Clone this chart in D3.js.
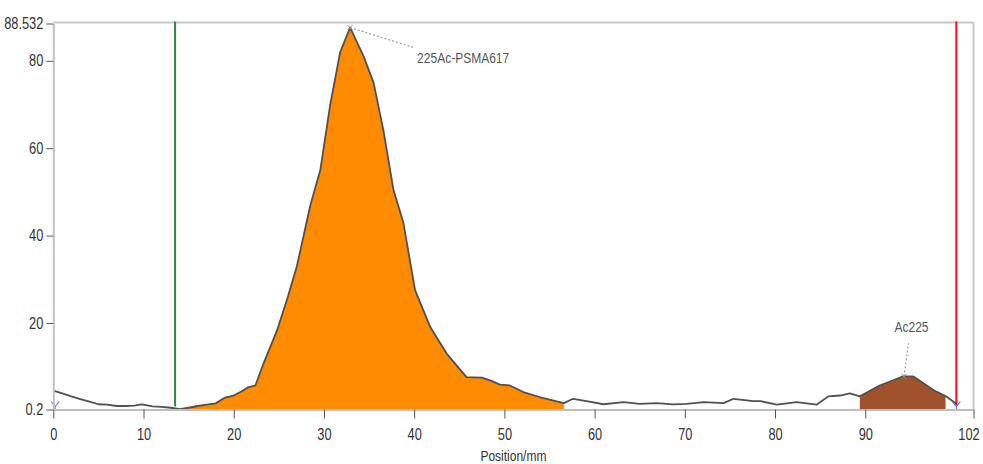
<!DOCTYPE html>
<html>
<head>
<meta charset="utf-8">
<script src="https://cdn.jsdelivr.net/npm/d3@7"></script>
<style>
  html, body { margin: 0; padding: 0; background: #fff; }
  svg { display: block; }
  .lbl { font-family: "Liberation Sans", Arial, sans-serif; }
</style>
</head>
<body>
<svg id="chart" width="983" height="464"></svg>
<script>
// profile: position (mm) and counts
const positions = [0, 1, 2, 3, 4, 5, 6, 7, 8, 9, 9.8, 11, 12, 13, 14, 15, 16, 17, 18, 19, 20, 21, 21.5, 22.4,
  23.3, 24.8, 26, 27, 28.5, 29.6, 30.7, 31.8, 32.9, 34.4, 35.5, 36.6, 37.7, 38.8, 40.1, 41.8, 43.6, 45.8,
  47.5, 48.5, 49.5, 50.6, 52.1, 54, 56.6, 57.6, 59.1, 61, 63.2, 65, 66.9, 68.7, 70.2, 72.1, 74.3, 75.4,
  77.6, 78.4, 80.2, 82.4, 84.6, 85.9, 87.2, 88.3, 89.4, 91.6, 93.1, 94.2, 95.3, 97.6, 98.9, 100.1];
const counts = [4.5, 3.9, 3.2, 2.6, 2.0, 1.4, 1.3, 1.0, 1.0, 1.1, 1.35, 0.9, 0.8, 0.6, 0.3, 0.6, 1.0, 1.3, 1.6, 2.9,
  3.4, 4.5, 5.2, 5.7, 10.7, 18.3, 26, 33, 47, 55, 70, 82, 87.6, 81, 75, 64, 50.5, 43, 27.5, 19, 13, 7.6,
  7.5, 6.8, 5.9, 5.7, 4.2, 3.0, 1.65, 2.65, 2.1, 1.4, 1.9, 1.5, 1.65, 1.35, 1.5, 1.9, 1.65, 2.65,
  2.1, 2.1, 1.3, 1.9, 1.3, 3.2, 3.4, 3.9, 3.2, 5.7, 6.9, 7.8, 7.8, 4.6, 3.3, 1.5];

const xTicks = [0, 10, 20, 30, 40, 50, 60, 70, 80, 90, 102];
const yTicks = [0.2, 20, 40, 60, 80, 88.532];

// integration regions
const regions = [
  { name: '225Ac-PSMA617', from: 14.2, to: 56.6, color: '#ff8c00', peak: 32.9, dx: 67, dy: 30, anchor: 'start' },
  { name: 'Ac225', from: 89.4, to: 98.9, color: '#a0522d', peak: 94.3, dx: 7.5, dy: -49, anchor: 'middle' }
];
const roiStart = 13.5, roiEnd = 100.1;

const svg = d3.select('#chart');
const mLeft = 53.3, mRight = 973.5, mTop = 23.5, mBottom = 409.5;

const x = d3.scaleLinear().domain([0, 102]).range([mLeft, mRight]);
const y = d3.scaleLinear().domain([0.2, 88.532]).range([mBottom, mTop]);

const data = positions.map((p, i) => ({ p, v: counts[i] }));
const valueAt = p => {
  const i = d3.bisector(d => d.p).left(data, p);
  if (i <= 0) return data[0].v;
  if (i >= data.length) return data[data.length - 1].v;
  const a = data[i - 1], b = data[i];
  return a.v + (b.v - a.v) * (p - a.p) / (b.p - a.p);
};

// frame
svg.append('line').attr('x1', mLeft).attr('x2', mRight).attr('y1', mTop - 1).attr('y2', mTop - 1)
  .attr('stroke', '#c8c8c8').attr('stroke-width', 2);
svg.append('line').attr('x1', mRight).attr('x2', mRight).attr('y1', mTop - 1).attr('y2', mBottom)
  .attr('stroke', '#c8c8c8').attr('stroke-width', 2);

// filled regions
const area = d3.area().x(d => x(d.p)).y0(y(0.2)).y1(d => y(d.v));
regions.forEach(r => {
  const pts = [{ p: r.from, v: valueAt(r.from) }]
    .concat(data.filter(d => d.p > r.from && d.p < r.to))
    .concat([{ p: r.to, v: valueAt(r.to) }]);
  svg.append('path').datum(pts).attr('d', area).attr('fill', r.color);
});

// profile line
const line = d3.line().x(d => x(d.p)).y(d => y(d.v));
svg.append('path').datum(data).attr('d', line)
  .attr('fill', 'none').attr('stroke', '#505050').attr('stroke-width', 1.8).attr('stroke-linejoin', 'round');

// ROI markers
svg.append('line').attr('x1', x(roiStart)).attr('x2', x(roiStart)).attr('y1', mTop - 2).attr('y2', mBottom - 3)
  .attr('stroke', '#2e8b2e').attr('stroke-width', 2);
svg.append('line').attr('x1', x(roiEnd)).attr('x2', x(roiEnd)).attr('y1', mTop - 2).attr('y2', mBottom - 4)
  .attr('stroke', '#e8101a').attr('stroke-width', 2);

// little Y markers on the baseline
[{ p: 0.2, c: '#8a6fd0' }, { p: roiEnd, c: '#5a6fe0' }].forEach(m => {
  const cx = x(m.p), cy = mBottom - 4;
  svg.append('path')
    .attr('d', `M${cx - 4},${cy - 4}L${cx},${cy + 1}L${cx + 4},${cy - 4}M${cx},${cy + 1}L${cx},${cy + 4}`)
    .attr('fill', 'none').attr('stroke', m.c).attr('stroke-width', 1.2);
});

// axes
const xAxis = svg.append('g').attr('transform', `translate(0,${mBottom})`)
  .call(d3.axisBottom(x).tickValues(xTicks).tickSize(9).tickPadding(10).tickSizeOuter(0));
const yAxis = svg.append('g').attr('transform', `translate(${mLeft},0)`)
  .call(d3.axisLeft(y).tickValues(yTicks).tickFormat(d => String(d)).tickSize(7).tickPadding(3).tickSizeOuter(0));
[xAxis, yAxis].forEach(g => {
  g.select('.domain').attr('stroke', '#c0c0c0').attr('stroke-width', 2);
  g.selectAll('.tick line').attr('stroke', '#555');
  g.selectAll('.tick text').attr('class', 'lbl').attr('fill', '#333').attr('font-size', 16);
});
// last x label sits a little inside the edge
xAxis.selectAll('.tick text').filter(d => d === 102).attr('x', -5);

svg.append('text').attr('class', 'lbl').attr('x', (mLeft + mRight) / 2).attr('y', 461)
  .attr('text-anchor', 'middle').attr('fill', '#333').attr('font-size', 15).text('Position/mm');

// peak annotations
regions.forEach(r => {
  const px = x(r.peak), py = y(valueAt(r.peak));
  svg.append('path')
    .attr('d', `M${px - 2.5},${py - 2.5}L${px + 2.5},${py + 2.5}M${px - 2.5},${py + 2.5}L${px + 2.5},${py - 2.5}`)
    .attr('stroke', '#a09080').attr('stroke-width', 1);
  const ex = px + r.dx - 3;
  const ey = r.anchor === 'start' ? py + 20 : py + r.dy + 16;
  svg.append('line').attr('x1', px).attr('y1', py).attr('x2', ex).attr('y2', ey)
    .attr('stroke', '#999').attr('stroke-width', 1.2).attr('stroke-dasharray', '2,2');
  svg.append('text').attr('class', 'lbl').attr('x', px + r.dx).attr('y', py + r.dy + 5)
    .attr('text-anchor', r.anchor).attr('fill', '#4d5a5a').attr('font-size', 15).text(r.name);
});

// the original uses a narrow face: squeeze the glyphs horizontally
svg.selectAll('text.lbl').each(function () {
  const w = this.getComputedTextLength();
  d3.select(this).attr('textLength', w * 0.8).attr('lengthAdjust', 'spacingAndGlyphs');
});
</script>
</body>
</html>
